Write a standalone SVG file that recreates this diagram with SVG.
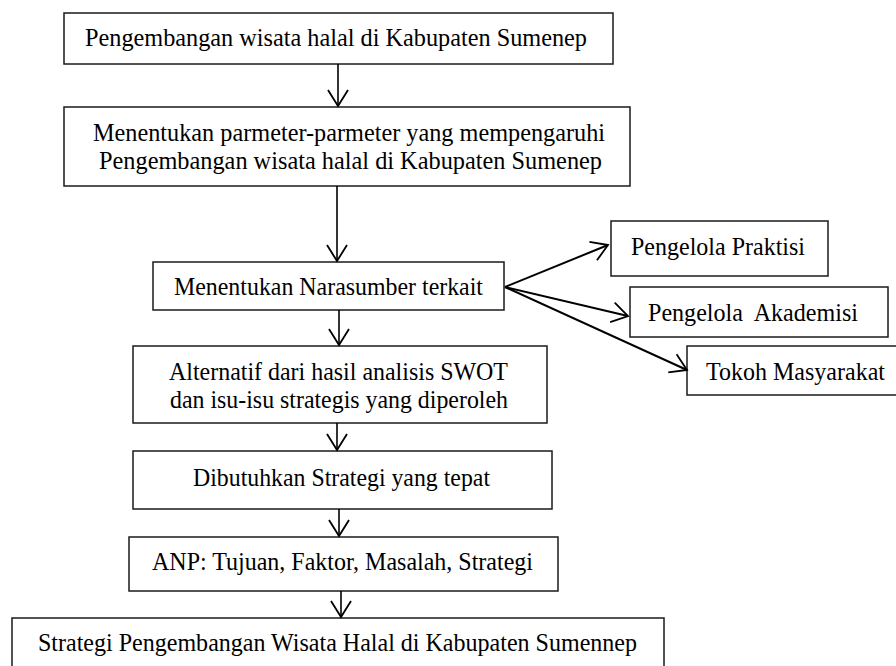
<svg xmlns="http://www.w3.org/2000/svg" width="896" height="666" viewBox="0 0 896 666">
<style>
.box{fill:#fff;stroke:#1a1a1a;stroke-width:1.5}
.t{font-family:"Liberation Serif","Times New Roman",serif;font-size:26px;fill:#000}
.s{font-size:24.5px}
.c{fill:none;stroke:#000;stroke-width:1.6}
.d{fill:none;stroke:#000;stroke-width:2}
</style>
<defs>
<marker id="ah" markerUnits="userSpaceOnUse" markerWidth="30" markerHeight="30" viewBox="-20 -15 30 30" refX="0" refY="0" orient="auto">
<path d="M-16,-10 L0,0 L-16,10" fill="none" stroke="#000" stroke-width="1.8"/>
</marker>
</defs>
<rect width="896" height="666" fill="#fff"/>
<g id="n1"><rect class="box" x="64" y="13" width="549" height="51"/><text class="t" x="85" y="46" textLength="502" lengthAdjust="spacingAndGlyphs">Pengembangan wisata halal di Kabupaten Sumenep</text></g>
<g id="n2"><rect class="box" x="64" y="107" width="566" height="79"/><text class="t" x="93" y="141" textLength="512" lengthAdjust="spacingAndGlyphs">Menentukan parmeter-parmeter yang mempengaruhi</text><text class="t" x="99" y="169" textLength="503" lengthAdjust="spacingAndGlyphs">Pengembangan wisata halal di Kabupaten Sumenep</text></g>
<g id="n3"><rect class="box" x="153" y="262" width="351" height="48"/><text class="t" x="174" y="295" textLength="309" lengthAdjust="spacingAndGlyphs">Menentukan Narasumber terkait</text></g>
<g id="n4"><rect class="box" x="611" y="221" width="217" height="55"/><text class="t" x="631" y="255" textLength="174" lengthAdjust="spacingAndGlyphs">Pengelola Praktisi</text></g>
<g id="n5"><rect class="box" x="630" y="287" width="258" height="50"/><text class="t" x="648" y="321" textLength="210" lengthAdjust="spacingAndGlyphs" xml:space="preserve">Pengelola  Akademisi</text></g>
<g id="n6"><rect class="box" x="687" y="346" width="210" height="49"/><text class="t s" x="706" y="380" textLength="179" lengthAdjust="spacingAndGlyphs">Tokoh Masyarakat</text></g>
<g id="n7"><rect class="box" x="133" y="346" width="414" height="77"/><text class="t" x="169" y="380" textLength="339" lengthAdjust="spacingAndGlyphs">Alternatif dari hasil analisis SWOT</text><text class="t" x="170" y="408" textLength="338" lengthAdjust="spacingAndGlyphs">dan isu-isu strategis yang diperoleh</text></g>
<g id="n8"><rect class="box" x="133" y="451" width="419" height="58"/><text class="t" x="193" y="486" textLength="297" lengthAdjust="spacingAndGlyphs">Dibutuhkan Strategi yang tepat</text></g>
<g id="n9"><rect class="box" x="129" y="537" width="429" height="54"/><text class="t" x="152" y="570" textLength="381" lengthAdjust="spacingAndGlyphs">ANP: Tujuan, Faktor, Masalah, Strategi</text></g>
<g id="n10"><rect class="box" x="12" y="618" width="652" height="50"/><text class="t" x="38" y="651" textLength="599" lengthAdjust="spacingAndGlyphs">Strategi Pengembangan Wisata Halal di Kabupaten Sumennep</text></g>
<g id="connectors">
<line class="c" x1="338" y1="64" x2="338" y2="106" marker-end="url(#ah)"/>
<line class="c" x1="337" y1="186" x2="337" y2="261" marker-end="url(#ah)"/>
<line class="c" x1="339" y1="310" x2="339" y2="345" marker-end="url(#ah)"/>
<line class="c" x1="337" y1="423" x2="337" y2="450" marker-end="url(#ah)"/>
<line class="c" x1="339" y1="509" x2="339" y2="536" marker-end="url(#ah)"/>
<line class="c" x1="341" y1="591" x2="341" y2="617" marker-end="url(#ah)"/>
<line class="d" x1="505" y1="287" x2="608" y2="245" marker-end="url(#ah)"/>
<line class="d" x1="505" y1="287" x2="628" y2="316" marker-end="url(#ah)"/>
<line class="d" x1="505" y1="287" x2="687" y2="370" marker-end="url(#ah)"/>
</g>
</svg>
